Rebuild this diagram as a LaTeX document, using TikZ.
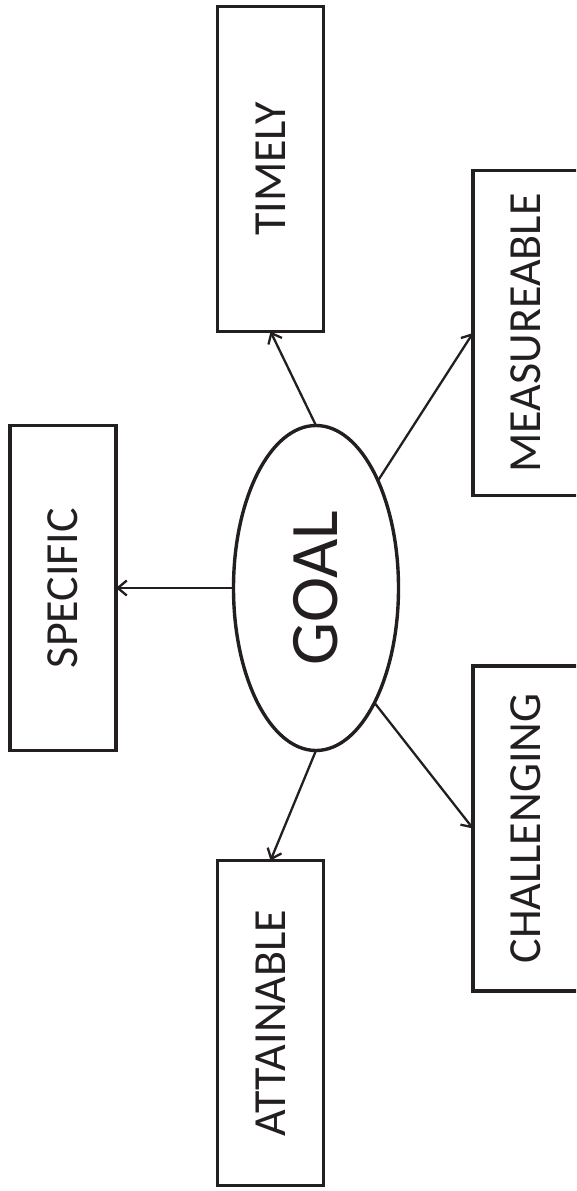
\documentclass[tikz,border=0pt]{standalone}
\usepackage{fontspec}
\setmainfont{Carlito}
\usepackage{graphicx}
\usetikzlibrary{shapes.geometric,arrows.meta}
\definecolor{ink}{RGB}{35,31,32}
\tikzset{
  box/.style={draw=ink, line width=3.6pt, rectangle, minimum width=106pt,
    minimum height=325pt, inner sep=0pt, outer sep=0pt, text=ink,
    font=\fontsize{46}{50}\selectfont},
  goal/.style={draw=ink, line width=3.4pt, ellipse, minimum width=165pt,
    minimum height=325pt, inner sep=0pt, outer sep=0pt, text=ink,
    font=\fontsize{68}{72}\selectfont},
  arr/.style={draw=ink, line width=2.3pt,
    -{Straight Barb[length=9pt,width=15pt,line width=2.3pt]}}
}
\begin{document}
\begin{tikzpicture}[x=1pt,y=-1pt]
  \useasboundingbox (0,0) rectangle (576,1191);
  \clip (0,0) rectangle (576,1191);
  % central goal
  \node[goal] (g) at (316,588) {\rotatebox{90}{GOAL}};
  % the five criteria
  \node[box] (timely) at (270.5,169) {\rotatebox{90}{TIMELY}};
  \node[box] (meas) at (526,333) {\rotatebox{90}{MEASUREABLE}};
  \node[box] (spec) at (63,588) {\rotatebox{90}{SPECIFIC}};
  \node[box] (chal) at (526,828.5) {\rotatebox{90}{CHALLENGING}};
  \node[box] (att) at (270.5,1023) {\rotatebox{90}{ATTAINABLE}};
  % connectors from the goal
  \draw[arr] (g.north) -- (timely.south);
  \draw[arr] (g.60.5) -- (meas.west);
  \draw[arr] (g.west) -- (spec.east);
  \draw[arr] (g.-63) -- (chal.west);
  \draw[arr] (g.south) -- (att.north);
\end{tikzpicture}
\end{document}
